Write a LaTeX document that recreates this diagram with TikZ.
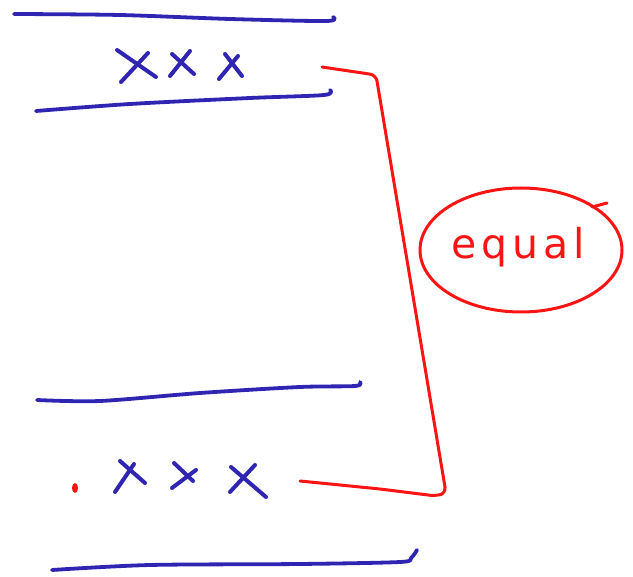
\documentclass[tikz,border=0pt]{standalone}
\usepackage{fontspec}
\usetikzlibrary{calc}
\definecolor{inkblue}{RGB}{48,36,178}
\definecolor{inkred}{RGB}{250,20,20}
\newfontfamily\handfont[LetterSpace=12]{DejaVu Sans}

\begin{document}
\begin{tikzpicture}[
  x=1pt, y=-1pt,
  blueink/.style={draw=inkblue, line width=3.8pt, line cap=round, line join=round},
  redink/.style={draw=inkred, line width=3pt, line cap=round, line join=round},
  cross/.style={blueink, line width=4pt},
  label/.style={text=inkred, font=\handfont\fontsize{41}{41}\selectfont, inner sep=0pt}
]
\useasboundingbox (0,0) rectangle (633,577);

% upper band
\draw [blueink] plot[smooth] coordinates {(14,14) (120,15) (230,19) (326,21) (333,17)};
\draw [blueink] plot[smooth] coordinates {(36,111) (130,104) (250,98) (324,95) (330,90)};
\draw [cross] (117,50) -- (156,77);
\draw [cross] (121,82) -- (148,53);
\draw [cross] (172,54) -- (194,74);
\draw [cross] (170,76) -- (190,51);
\draw [cross] (225,54) -- (242,76);
\draw [cross] (219,79) -- (238,56);

% lower band
\draw [blueink] plot[smooth] coordinates {(37,400) (100,401) (200,393) (300,387) (355,386) (360,382)};
\draw [blueink] plot[smooth] coordinates {(52,570) (150,565) (300,564) (400,562) (411,558) (417,550)};
\fill [inkred] (75,488) ellipse [x radius=3, y radius=5];
\draw [cross] (120,461) -- (145,483);
\draw [cross] (115,492) -- (134,464);
\draw [cross] (174,463) -- (193,481);
\draw [cross] (172,488) -- (196,470);
\draw [cross] (231,467) -- (266,497);
\draw [cross] (230,492) -- (255,465);

% bracket and note
\draw [redink, rounded corners=6] (322,67) -- (376,75) -- (446,493) -- (436,496)
  -- (380,489) -- (340,485) -- (300,481);
\draw [redink] (521,250) ellipse [x radius=101, y radius=62];
\draw [redink] (592,207) -- (607,203);
\node (equal) [label] at (518,247) {equal};

\end{tikzpicture}
\end{document}
